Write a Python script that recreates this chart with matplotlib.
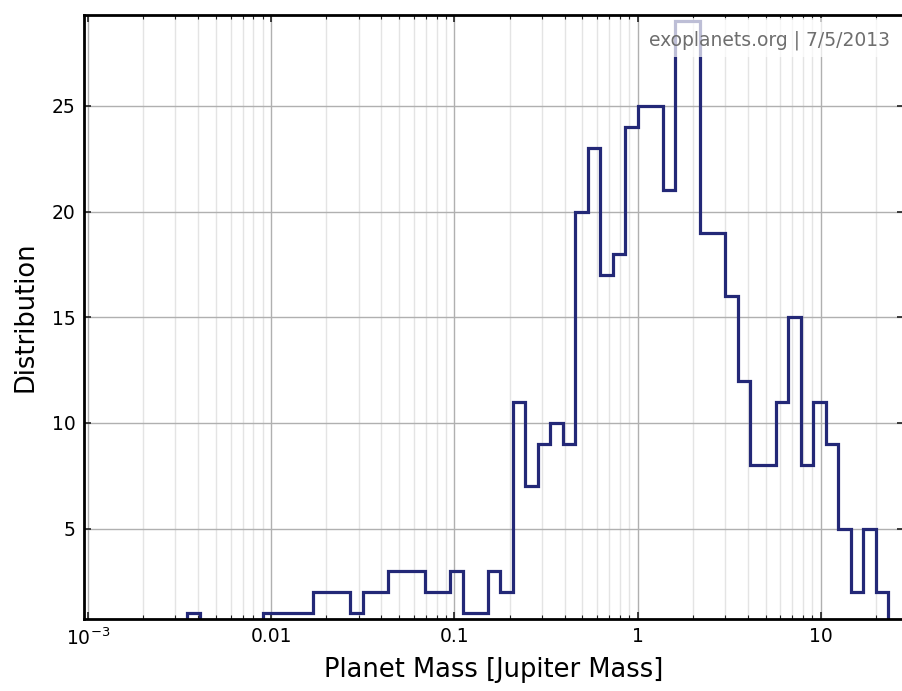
import matplotlib
matplotlib.use("Agg")
import matplotlib.pyplot as plt
import numpy as np
from matplotlib.patches import Rectangle
from matplotlib.ticker import FixedLocator, FixedFormatter, LogLocator, NullFormatter


# log10 bin edges of the mass histogram (56 equal-width bins in log space)
LOG_EDGE_LO = -2.457
LOG_EDGE_HI = 1.368
N_BINS      = 56

# planet counts per bin, lowest mass first
COUNTS = [
    1, 0, 0, 0, 0, 0, 1, 1, 1, 1,
    2, 2, 2, 1, 2, 2, 3, 3, 3, 2,
    2, 3, 1, 1, 3, 2, 11, 7, 9, 10,
    9, 20, 23, 17, 18, 24, 25, 25, 21, 29,
    29, 19, 19, 16, 12, 8, 8, 11, 15, 8,
    11, 9, 5, 2, 5, 2,
]

X_TICKS       = [1e-3, 1e-2, 1e-1, 1, 10]
X_TICK_LABELS = [r"$\mathregular{10^{-3}}$", "0.01", "0.1", "1", "10"]
Y_TICKS       = [5, 10, 15, 20, 25]

LINE_COLOR = "#232877"
STAMP      = "exoplanets.org | 7/5/2013"


def main():
    plt.rcParams["font.family"] = ["DejaVu Sans"]

    edges  = 10 ** np.linspace(LOG_EDGE_LO, LOG_EDGE_HI, N_BINS + 1)
    counts = np.array(COUNTS, dtype=float)

    fig = plt.figure(figsize=(9.03, 6.91), dpi=100)
    ax  = fig.add_axes([84 / 903, 72 / 691, 819.5 / 903, 604 / 691])

    ax.stairs(counts, edges, color=LINE_COLOR, linewidth=2.3, zorder=3)

    ax.set_xscale("log")
    ax.set_xlim(10 ** -3.022, 10 ** 1.452)
    ax.set_ylim(0.72, 29.3)

    ax.xaxis.set_major_locator(FixedLocator(X_TICKS))
    ax.xaxis.set_major_formatter(FixedFormatter(X_TICK_LABELS))
    ax.xaxis.set_minor_locator(LogLocator(base=10, subs=np.arange(2, 10), numticks=20))
    ax.xaxis.set_minor_formatter(NullFormatter())
    ax.set_yticks(Y_TICKS)

    ax.grid(True, which="major", color="#b0b0b0", linewidth=1.0, zorder=0)
    ax.grid(True, which="minor", axis="x", color="#e4e4e4", linewidth=1.0, zorder=0)
    ax.set_axisbelow(True)

    ax.tick_params(which="both", direction="in", top=True, right=True,
                   color="#202020", labelsize=13.5, pad=6)
    ax.tick_params(which="major", length=5, width=1.2)
    ax.tick_params(which="minor", length=3, width=0.8)

    for side in ["left", "bottom", "top", "right"]:
        ax.spines[side].set_linewidth(2.0)
        ax.spines[side].set_color("black")
        ax.spines[side].set_zorder(6)

    ax.set_xlabel("Planet Mass [Jupiter Mass]", fontsize=18.5, labelpad=6)
    ax.set_ylabel("Distribution", fontsize=18.5, labelpad=10)

    # translucent white panel behind the date stamp, drawn over the curve
    ax.add_patch(Rectangle((0.691, 0.9305), 0.309, 0.0645, transform=ax.transAxes,
                           facecolor="white", edgecolor="none", alpha=0.7,
                           zorder=4))
    ax.text(0.9835, 0.9487, STAMP, transform=ax.transAxes, ha="right", va="baseline",
            fontsize=13.5, color="#6e6e6e", zorder=5)

    fig.savefig("out.png", dpi=100)
    plt.close(fig)


if __name__ == "__main__":
    main()
